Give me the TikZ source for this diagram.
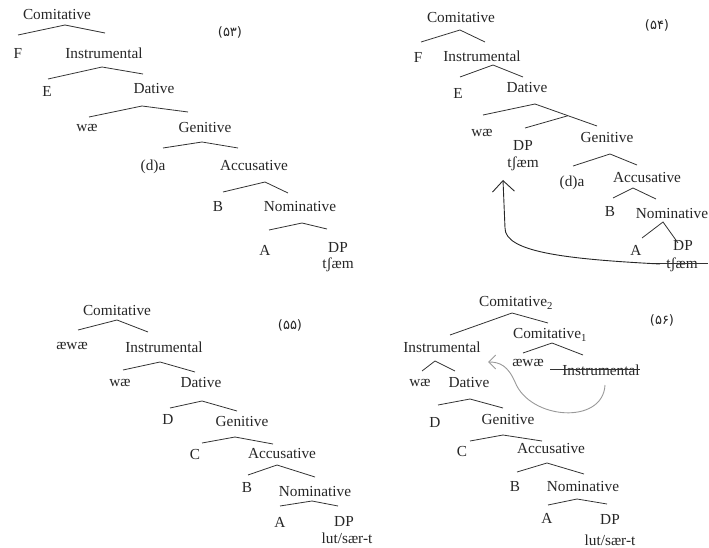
\documentclass[tikz,border=0pt]{standalone}
\usepackage{fontspec}
\setmainfont{Liberation Serif}
\newfontfamily\numfont{DejaVu Sans}
\usetikzlibrary{arrows.meta}
\tikzset{
  lbl/.style={inner sep=0pt, text=black!85, font=\fontsize{15.3}{18}\selectfont},
  exnum/.style={inner sep=0pt, text=black!85, font=\numfont\fontsize{13}{15}\selectfont},
  roof/.style={draw=black!80, line width=0.8pt},
  struck/.style={draw=black!80, line width=0.8pt},
  mvarrow/.style={draw=black!85, line width=0.9pt, -{Straight Barb[length=11pt,width=22pt,line width=0.9pt]}},
  grayarrow/.style={draw=black!40, line width=0.9pt, -{Straight Barb[length=7pt,width=14pt,line width=0.9pt]}}
}
\newcommand{\roofbr}[4]{%
  \coordinate (#1l) at #2; \coordinate (#1a) at #3; \coordinate (#1r) at #4;
  \draw[roof] (#1l) -- (#1a) -- (#1r);}
\begin{document}
\begin{tikzpicture}[x=1pt,y=-1pt]
\useasboundingbox (0,0) rectangle (709,548);
% ---------------- (53)
\node[lbl] (com53) at (57,15) {Comitative};
\node[exnum] (lab53) at (230,32) {(۵۳)};
\node[lbl] (F53) at (18,53) {F};
\node[lbl] (ins53) at (104,53) {Instrumental};
\node[lbl] (E53) at (47,91) {E};
\node[lbl] (dat53) at (154,89) {Dative};
\node[lbl] (wae53) at (87,128) {wæ};
\node[lbl] (gen53) at (205,128) {Genitive};
\node[lbl] (da53) at (153,167) {(d)a};
\node[lbl] (acc53) at (254,166) {Accusative};
\node[lbl] (B53) at (218,207) {B};
\node[lbl] (nom53) at (300,207) {Nominative};
\node[lbl] (A53) at (265,250) {A};
\node[lbl] (DP53) at (338,248) {DP};
\node[lbl] (ts53) at (338,265) {tʃæm};
\roofbr{r53a}{(18,35)}{(65,25)}{(105,33)}
\roofbr{r53b}{(48,79)}{(102,67)}{(143,74)}
\roofbr{r53c}{(89,117)}{(142,106)}{(188,112)}
\roofbr{r53d}{(163,148)}{(202,142)}{(238,148)}
\roofbr{r53e}{(223,192)}{(265,182)}{(288,193)}
\roofbr{r53f}{(269,230)}{(302,223)}{(327,229)}
% ---------------- (54)
\node[lbl] (com54) at (461,18) {Comitative};
\node[exnum] (lab54) at (657,25) {(۵۴)};
\node[lbl] (F54) at (418,57) {F};
\node[lbl] (ins54) at (482,56) {Instrumental};
\node[lbl] (E54) at (458,93) {E};
\node[lbl] (dat54) at (527,88) {Dative};
\node[lbl] (wae54) at (482,133) {wæ};
\node[lbl] (DPa54) at (523,146) {DP};
\node[lbl] (tsa54) at (523,164) {tʃæm};
\node[lbl] (gen54) at (607,138) {Genitive};
\node[lbl] (da54) at (572,183) {(d)a};
\node[lbl] (acc54) at (647,178) {Accusative};
\node[lbl] (B54) at (610,212) {B};
\node[lbl] (nom54) at (672,214) {Nominative};
\node[lbl] (A54) at (636,250) {A};
\node[lbl] (DP54) at (683,246) {DP};
\node[lbl] (ts54) at (682,265) {tʃæm};
\coordinate (s54l) at (653,263.5); \coordinate (s54r) at (708,263.5);
\draw[struck] (s54l) -- (s54r);
\roofbr{r54a}{(421,42)}{(460,30)}{(485,42)}
\roofbr{r54b}{(460,77)}{(493,65)}{(523,77)}
\roofbr{r54c}{(483,115)}{(535,104)}{(597,126)}
\coordinate (r54cm) at (568,115.7); \coordinate (r54cd) at (525,128);
\draw[roof] (r54cm) -- (r54cd);
\roofbr{r54d}{(573,166)}{(610,154)}{(637,165)}
\roofbr{r54e}{(613,198)}{(633,188)}{(656,199)}
\roofbr{r54f}{(642,238)}{(663,222)}{(678,243)}
\coordinate (m54s) at (660,264); \coordinate (m54t) at (503,180);
\draw[mvarrow] (m54s) .. controls (565,259) and (505,252) .. (505,228) -- (m54t);
% ---------------- (55)
\node[lbl] (com55) at (117,311) {Comitative};
\node[exnum] (lab55) at (290,325) {(۵۵)};
\node[lbl] (aewae55) at (72,346) {æwæ};
\node[lbl] (ins55) at (164,347) {Instrumental};
\node[lbl] (wae55) at (120,383) {wæ};
\node[lbl] (dat55) at (201,383) {Dative};
\node[lbl] (D55) at (168,420) {D};
\node[lbl] (gen55) at (242,422) {Genitive};
\node[lbl] (C55) at (195,455) {C};
\node[lbl] (acc55) at (282,454) {Accusative};
\node[lbl] (B55) at (247,488) {B};
\node[lbl] (nom55) at (315,492) {Nominative};
\node[lbl] (A55) at (280,522) {A};
\node[lbl] (DP55) at (344,522) {DP};
\node[lbl] (lut55) at (347,538) {lut/sær-t};
\roofbr{r55a}{(78,330)}{(117,320)}{(148,332)}
\roofbr{r55b}{(123,370)}{(160,362)}{(195,372)}
\roofbr{r55c}{(170,408)}{(202,401)}{(237,411)}
\roofbr{r55d}{(202,443)}{(235,437)}{(273,444)}
\roofbr{r55e}{(248,475)}{(277,465)}{(315,477)}
\roofbr{r55f}{(280,506)}{(312,501)}{(338,506)}
% ---------------- (56)
\node[lbl] (comtwo) at (516,303) {Comitative\textsubscript{2}};
\node[exnum] (lab56) at (662,320) {(۵۶)};
\node[lbl] (comone) at (550,335) {Comitative\textsubscript{1}};
\node[lbl] (insL) at (442,347) {Instrumental};
\node[lbl] (aewae56) at (528,363) {æwæ};
\node[lbl] (insR) at (601,370) {Instrumental};
\coordinate (s56l) at (550,369); \coordinate (s56r) at (640,369);
\draw[struck] (s56l) -- (s56r);
\node[lbl] (wae56) at (420,383) {wæ};
\node[lbl] (dat56) at (469,383) {Dative};
\node[lbl] (D56) at (435,423) {D};
\node[lbl] (gen56) at (508,420) {Genitive};
\node[lbl] (C56) at (462,452) {C};
\node[lbl] (acc56) at (551,449) {Accusative};
\node[lbl] (B56) at (515,487) {B};
\node[lbl] (nom56) at (583,487) {Nominative};
\node[lbl] (A56) at (547,518) {A};
\node[lbl] (DP56) at (610,520) {DP};
\node[lbl] (lut56) at (610,540) {lut/sær-t};
\roofbr{r56a}{(450,335)}{(512,313)}{(548,323)}
\roofbr{r56b}{(523,353)}{(552,343)}{(583,355)}
\roofbr{r56c}{(422,371)}{(435,361)}{(455,371)}
\roofbr{r56d}{(438,405)}{(470,399)}{(503,408)}
\roofbr{r56e}{(470,441)}{(503,435)}{(542,441)}
\roofbr{r56f}{(517,472)}{(547,463)}{(584,474)}
\roofbr{r56g}{(548,505)}{(577,499)}{(607,504)}
\coordinate (m56s) at (605,385); \coordinate (m56t) at (488,362);
\draw[grayarrow] (m56s) .. controls (603,425) and (530,420) .. (515,382) .. controls (508,366) and (500,362) .. (m56t);
\end{tikzpicture}
\end{document}
